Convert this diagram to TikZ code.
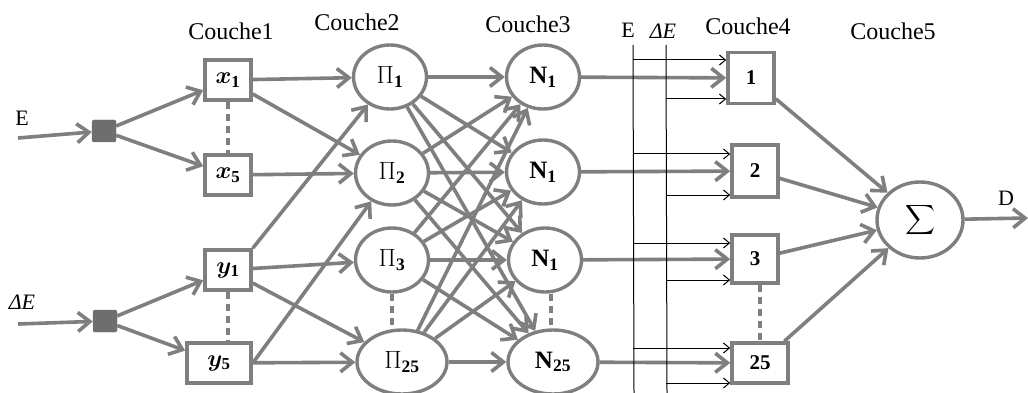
\RequirePackage{fix-cm}
\documentclass[tikz,border=0pt]{standalone}
\usepackage{amsmath}
\usepackage{fontspec}
\usepackage{bm}
\setmainfont{Liberation Serif}
\usetikzlibrary{arrows.meta,shapes.geometric}
\definecolor{gl}{HTML}{7F7F7F}
\definecolor{gf}{HTML}{6E6E6E}
\tikzset{
  gline/.style={draw=gl, line width=3.6pt},
  garrow/.style={gline, -{Straight Barb[length=12pt,width=19pt]}},
  tarrow/.style={draw=black, line width=1pt, -{Straight Barb[length=6pt,width=10pt]}},
  gdash/.style={gline, dash pattern=on 7pt off 5pt},
  boxn/.style={rectangle, draw=gl, line width=3.6pt, fill=white, minimum width=46pt, minimum height=40pt, inner sep=0pt, font=\fontsize{24}{28}\selectfont},
  elln/.style={ellipse, draw=gl, line width=3.4pt, fill=none, minimum width=73pt, minimum height=64pt, inner sep=0pt, font=\fontsize{25}{29}\selectfont},
  sq/.style={rectangle, fill=gf, draw=gf, rounded corners=1.5pt, minimum width=24pt, minimum height=22pt, inner sep=0pt},
  lab/.style={font=\fontsize{24}{28}\selectfont, inner sep=0pt},
  labs/.style={font=\fontsize{22}{26}\selectfont, inner sep=0pt},
  numn/.style={font=\fontsize{21}{24}\selectfont\bfseries},
}
\begin{document}
\begin{tikzpicture}[x=1pt,y=-1pt]
\useasboundingbox (0,0) rectangle (1028,393);
% labels
\node[lab] (c1) at (231,31) {Couche1};
\node[lab] (c2) at (357,22) {Couche2};
\node[lab] (c3) at (528,24) {Couche3};
\node[lab] (c4) at (748,26) {Couche4};
\node[lab] (c5) at (893,31) {Couche5};
\node[labs] (lE) at (22,118) {E};
\node[labs] (lDE) at (22,302) {\itshape ΔE};
\node[labs] (lE2) at (628,30) {E};
\node[labs] (lDE2) at (663,31) {\itshape ΔE};
\node[labs] (lD) at (1006,198) {D};
% inputs
\node[sq] (sqE) at (104,131) {};
\node[sq] (sqD) at (105,321) {};
\coordinate (inE) at (18,138);
\coordinate (inD) at (18,324);
% layer 1
\node[boxn] (x1) at (228,80) {$\bm{x}_{\mathbf{1}}$};
\node[boxn] (x5) at (228,175) {$\bm{x}_{\mathbf{5}}$};
\node[boxn] (y1) at (228,270) {$\bm{y}_{\mathbf{1}}$};
\node[boxn, minimum width=64pt] (y5) at (219,363) {$\bm{y}_{\mathbf{5}}$};
% layer 2
\node[elln] (P1) at (390,77) {$\Pi_{\mathbf{1}}$};
\node[elln] (P2) at (392,173) {$\Pi_{\mathbf{2}}$};
\node[elln] (P3) at (392,260) {$\Pi_{\mathbf{3}}$};
\node[elln, minimum width=90pt] (P25) at (402,362) {$\Pi_{\mathbf{25}}$};
% layer 3
\node[elln] (N1) at (543,77) {$\mathbf{N}_{\mathbf{1}}$};
\node[elln] (N2) at (543,172) {$\mathbf{N}_{\mathbf{1}}$};
\node[elln] (N3) at (545,260) {$\mathbf{N}_{\mathbf{1}}$};
\node[elln, minimum width=90pt] (N25) at (553,362) {$\mathbf{N}_{\mathbf{25}}$};
% layer 4
\node[boxn, numn, minimum height=51pt] (L1) at (751,78) {1};
\node[boxn, numn, minimum height=52pt] (L2) at (755,171) {2};
\node[boxn, numn, minimum height=48pt] (L3) at (755,259) {3};
\node[boxn, numn, minimum width=56pt] (L25) at (760,363) {25};
% layer 5
\node[elln, minimum width=86pt, minimum height=76pt, font=\fontsize{21}{25}\selectfont] (S) at (920,220) {$\displaystyle\sum$};
\coordinate (out) at (1028,218);
% input arrows
\draw[garrow] (inE) -- (sqE);
\draw[garrow] (inD) -- (sqD);
\draw[garrow] (sqE) -- (x1);
\draw[garrow] (sqE) -- (x5);
\draw[garrow] (sqD) -- (y1);
\draw[garrow] (sqD) -- (y5);
% dashed
\draw[gdash] (x1) -- (x5);
\draw[gdash] (y1.south) -- (y1.south |- y5.north);
\draw[gdash] (P3) -- (P3 |- P25.north);
\draw[gdash] ([xshift=6pt]N3.south) -- ([xshift=6pt]N3.south |- N25.north);
\draw[gdash] ([xshift=5pt]L3.south) -- ([xshift=5pt]L3.south |- L25.north);
% layer1 -> layer2
\draw[garrow] (x1) -- (P1);
\draw[garrow] (x1) -- (P2);
\draw[garrow] (x5) -- (P2);
\draw[garrow] (y1.north east) -- (P1);
\draw[garrow] (y1) -- (P3);
\draw[garrow] (y1) -- (P25);
\draw[garrow] (y5.east) -- (P2);
\draw[garrow] (y5) -- (P25);
% layer2 -> layer3
\foreach \p in {P1,P2,P3,P25}{
  \foreach \n in {N1,N2,N3,N25}{
    \draw[garrow] (\p) -- (\n);
  }
}
% layer3 -> layer4
\draw[garrow] (N1) -- (L1);
\draw[garrow] (N2) -- (L2);
\draw[garrow] (N3) -- (L3);
\draw[garrow] (N25) -- (L25);
% layer4 -> sum
\draw[garrow] (L1) -- (S);
\draw[garrow] (L2) -- (S);
\draw[garrow] (L3) -- (S);
\draw[garrow] (L25) -- (S);
\draw[garrow] (S) -- (out);
% E and DeltaE bus lines
\coordinate (eTop) at (633,45);
\coordinate (eBot) at (634,393);
\coordinate (dTop) at (666,45);
\coordinate (dBot) at (667,393);
\draw[black, line width=1pt] (eTop) -- (eBot);
\draw[black, line width=1pt] (dTop) -- (dBot);
\coordinate (e1) at (633,60);  \coordinate (d1) at (666,99);
\coordinate (e2) at (633,154); \coordinate (d2) at (666,195);
\coordinate (e3) at (633,243); \coordinate (d3) at (666,280);
\coordinate (e4) at (633,348); \coordinate (d4) at (666,383);
\draw[tarrow] (e1) -- (e1 -| L1.west);
\draw[tarrow] (d1) -- (d1 -| L1.west);
\draw[tarrow] (e2) -- (e2 -| L2.west);
\draw[tarrow] (d2) -- (d2 -| L2.west);
\draw[tarrow] (e3) -- (e3 -| L3.west);
\draw[tarrow] (d3) -- (d3 -| L3.west);
\draw[tarrow] (e4) -- (e4 -| L25.west);
\draw[tarrow] (d4) -- (d4 -| L25.west);
\end{tikzpicture}
\end{document}
